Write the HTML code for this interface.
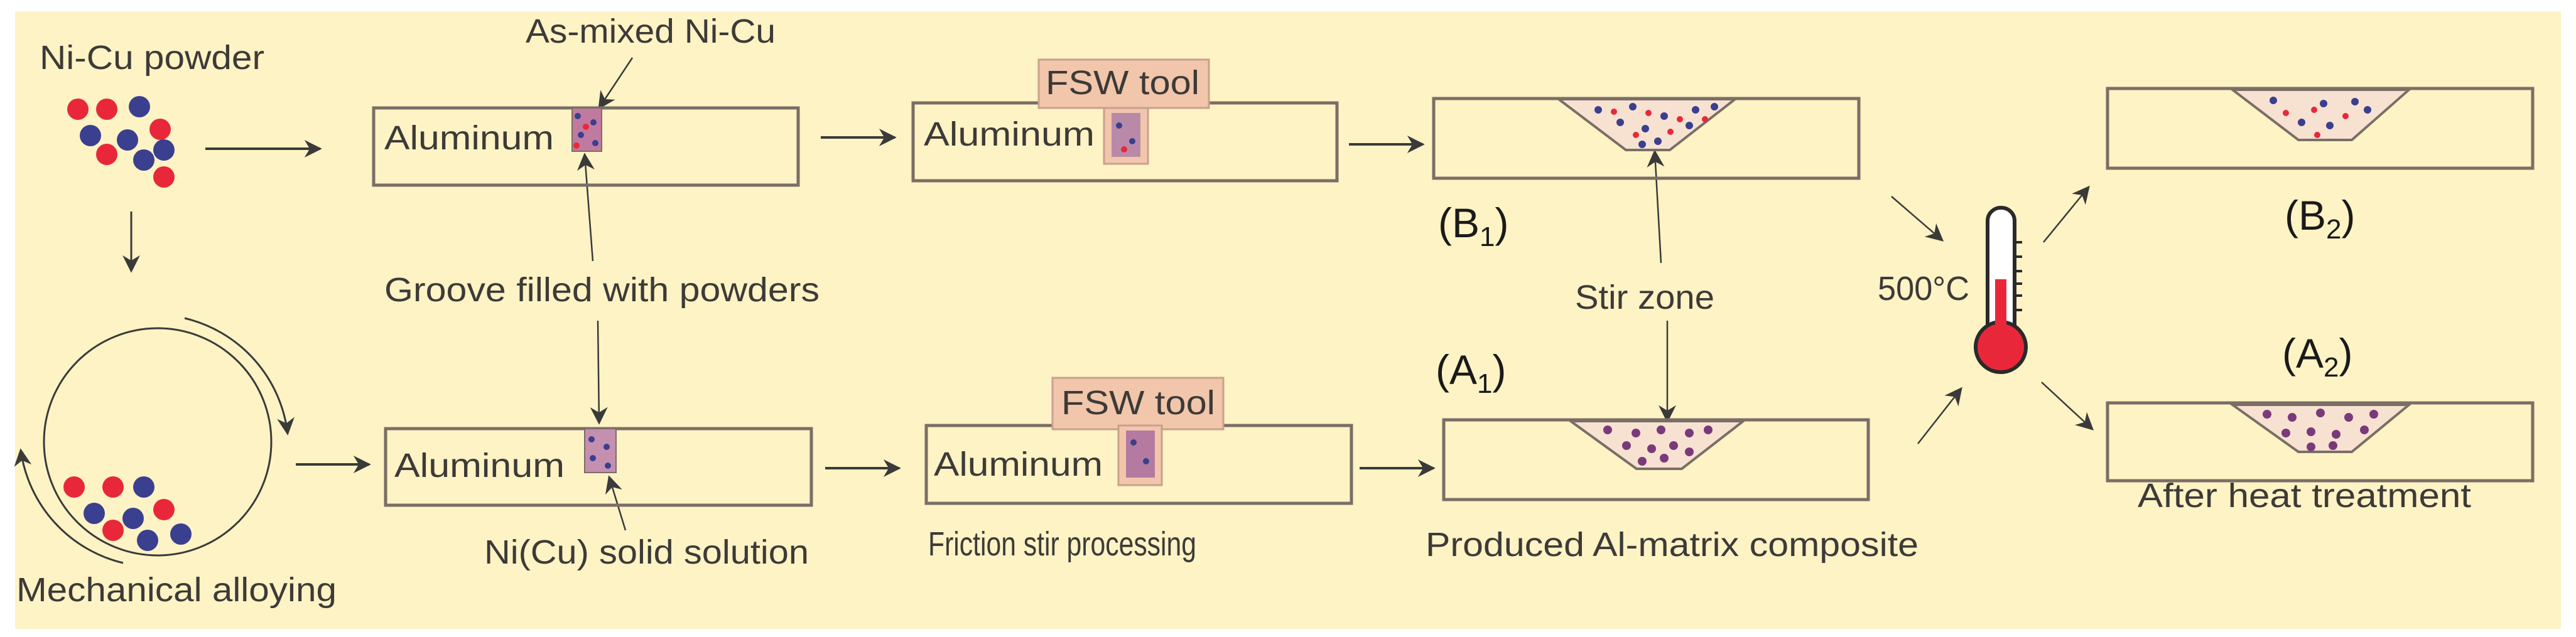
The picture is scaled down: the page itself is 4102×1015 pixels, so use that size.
<!DOCTYPE html>
<html><head><meta charset="utf-8"><style>html,body{margin:0;padding:0;background:#fff}svg{display:block}</style></head>
<body>
<svg width="4102" height="1015" viewBox="0 0 4102 1015" xmlns="http://www.w3.org/2000/svg">
<defs>
<marker id="ahb" viewBox="0 0 10 10" refX="9" refY="5" markerWidth="30" markerHeight="28" orient="auto" markerUnits="userSpaceOnUse">
<path d="M0,0 L10,5 L0,10 L3,5 z" fill="#3a3a3a"/></marker>
</defs>
<rect x="0" y="0" width="4102" height="1015" fill="#fff"/>
<rect x="24" y="18" width="4054" height="984" fill="#fdf3c4"/>
<g font-family="Liberation Sans, sans-serif" fill="#3d3a38" font-size="54">
<text x="63" y="110" textLength="358" lengthAdjust="spacingAndGlyphs">Ni-Cu powder</text>
<text x="837" y="68" textLength="398" lengthAdjust="spacingAndGlyphs">As-mixed Ni-Cu</text>
<text x="612" y="480" textLength="693" lengthAdjust="spacingAndGlyphs">Groove filled with powders</text>
<text x="26" y="958" textLength="510" lengthAdjust="spacingAndGlyphs">Mechanical alloying</text>
<text x="771" y="898" textLength="517" lengthAdjust="spacingAndGlyphs">Ni(Cu) solid solution</text>
<text x="1478" y="885" textLength="427" lengthAdjust="spacingAndGlyphs">Friction stir processing</text>
<text x="2270" y="886" textLength="785" lengthAdjust="spacingAndGlyphs">Produced Al-matrix composite</text>
<text x="2508" y="492" textLength="222" lengthAdjust="spacingAndGlyphs">Stir zone</text>
<text x="3404" y="808" textLength="531" lengthAdjust="spacingAndGlyphs">After heat treatment</text>
<text x="2990" y="478" textLength="146" lengthAdjust="spacingAndGlyphs">500°C</text>
</g>
<g font-family="Liberation Sans, sans-serif" fill="#1a1a1a" font-size="66">
<text x="2290" y="378">(B<tspan font-size="44" dy="14">1</tspan><tspan dy="-14">)</tspan></text>
<text x="2286" y="612">(A<tspan font-size="44" dy="14">1</tspan><tspan dy="-14">)</tspan></text>
<text x="3638" y="366">(B<tspan font-size="44" dy="14">2</tspan><tspan dy="-14">)</tspan></text>
<text x="3634" y="586">(A<tspan font-size="44" dy="14">2</tspan><tspan dy="-14">)</tspan></text>
</g>
<g>
<circle cx="124" cy="174" r="17" fill="#e8283a"/><circle cx="170" cy="174" r="17" fill="#e8283a"/><circle cx="222" cy="170" r="17" fill="#3a3f8f"/>
<circle cx="255" cy="206" r="17" fill="#e8283a"/><circle cx="144" cy="216" r="17" fill="#3a3f8f"/><circle cx="203" cy="223" r="17" fill="#3a3f8f"/>
<circle cx="170" cy="246" r="17" fill="#e8283a"/><circle cx="261" cy="239" r="17" fill="#3a3f8f"/><circle cx="229" cy="255" r="17" fill="#3a3f8f"/><circle cx="261" cy="282" r="17" fill="#e8283a"/>
<circle cx="118" cy="776" r="17" fill="#e8283a"/><circle cx="180" cy="776" r="17" fill="#e8283a"/><circle cx="229" cy="776" r="17" fill="#3a3f8f"/>
<circle cx="261" cy="812" r="17" fill="#e8283a"/><circle cx="150" cy="818" r="17" fill="#3a3f8f"/><circle cx="212" cy="826" r="17" fill="#3a3f8f"/>
<circle cx="180" cy="845" r="17" fill="#e8283a"/><circle cx="288" cy="851" r="17" fill="#3a3f8f"/><circle cx="235" cy="861" r="17" fill="#3a3f8f"/>
</g>
<g stroke="#3a3a3a" stroke-width="4" fill="none">
<circle cx="251" cy="704" r="181" stroke-width="3"/>
<path d="M294,507 A215,215 0 0 1 458,691" stroke-width="3" marker-end="url(#ahb)"/>
<path d="M196,897 A215,215 0 0 1 33,717" stroke-width="3" marker-end="url(#ahb)"/>
<line x1="327" y1="237" x2="510" y2="237" marker-end="url(#ahb)"/>
<line x1="209" y1="337" x2="209" y2="432" stroke-width="3" marker-end="url(#ahb)"/>
<line x1="471" y1="740" x2="588" y2="740" marker-end="url(#ahb)"/>
<line x1="1307" y1="219" x2="1425" y2="219" marker-end="url(#ahb)"/>
<line x1="1314" y1="746" x2="1432" y2="746" marker-end="url(#ahb)"/>
<line x1="2148" y1="230" x2="2266" y2="230" marker-end="url(#ahb)"/>
<line x1="2165" y1="746" x2="2283" y2="746" marker-end="url(#ahb)"/>
<g stroke-width="2.5">
<line x1="1007" y1="92" x2="954" y2="172" marker-end="url(#ahb)"/>
<line x1="944" y1="416" x2="931" y2="246" marker-end="url(#ahb)"/>
<line x1="952" y1="511" x2="954" y2="674" marker-end="url(#ahb)"/>
<line x1="996" y1="845" x2="970" y2="760" marker-end="url(#ahb)"/>
<line x1="2645" y1="419" x2="2635" y2="241" marker-end="url(#ahb)"/>
<line x1="2655" y1="511" x2="2655" y2="671" marker-end="url(#ahb)"/>
<line x1="3012" y1="313" x2="3093" y2="383" marker-end="url(#ahb)"/>
<line x1="3054" y1="707" x2="3123" y2="619" marker-end="url(#ahb)"/>
<line x1="3254" y1="386" x2="3326" y2="298" marker-end="url(#ahb)"/>
<line x1="3251" y1="609" x2="3332" y2="684" marker-end="url(#ahb)"/>
</g>
</g>
<g stroke="#7a6e66" stroke-width="5" fill="none">
<rect x="595" y="172" width="676" height="123"/>
<rect x="614" y="683" width="678" height="122"/>
<rect x="1454" y="164" width="675" height="124"/>
<rect x="1475" y="678" width="677" height="124"/>
<rect x="2283" y="157" width="677" height="127"/>
<rect x="2299" y="669" width="676" height="127"/>
<rect x="3356" y="141" width="677" height="127"/>
<rect x="3356" y="642" width="677" height="124"/>
</g>
<g fill="#f1c6ab" stroke="#c9a08e" stroke-width="3">
<rect x="1654" y="95" width="271" height="77"/>
<rect x="1758" y="172" width="70" height="89"/>
<rect x="1676" y="602" width="272" height="82"/>
<rect x="1781" y="678" width="69" height="95"/>
</g>
<g font-family="Liberation Sans, sans-serif" fill="#3d3a38" font-size="54">
<text x="1665" y="150" textLength="245" lengthAdjust="spacingAndGlyphs">FSW tool</text>
<text x="1690" y="660" textLength="245" lengthAdjust="spacingAndGlyphs">FSW tool</text>
<text x="612" y="238" textLength="270" lengthAdjust="spacingAndGlyphs">Aluminum</text>
<text x="628" y="760" textLength="271" lengthAdjust="spacingAndGlyphs">Aluminum</text>
<text x="1471" y="232" textLength="272" lengthAdjust="spacingAndGlyphs">Aluminum</text>
<text x="1487" y="758" textLength="269" lengthAdjust="spacingAndGlyphs">Aluminum</text>
</g>
<g>
<rect x="911" y="172" width="47" height="69" fill="#c07aa0" stroke="#7a6e66" stroke-width="2"/>
<rect x="931" y="683" width="50" height="70" fill="#c58fb0" stroke="#7a6e66" stroke-width="2"/>
<rect x="1770" y="180" width="46" height="70" fill="#b98aa8"/>
<rect x="1793" y="686" width="46" height="75" fill="#b57aa0"/>
</g>
<g fill="#3a3f8f">
<circle cx="920" cy="185" r="5"/><circle cx="945" cy="195" r="5"/><circle cx="925" cy="215" r="5"/><circle cx="948" cy="228" r="5"/>
<circle cx="942" cy="700" r="5"/><circle cx="966" cy="712" r="5"/><circle cx="944" cy="730" r="5"/><circle cx="968" cy="742" r="5"/>
<circle cx="1782" cy="200" r="5"/><circle cx="1803" cy="225" r="5"/><circle cx="1805" cy="705" r="5"/><circle cx="1825" cy="735" r="5"/>
</g>
<g fill="#e8283a"><circle cx="933" cy="202" r="5"/><circle cx="918" cy="232" r="5"/><circle cx="1790" cy="238" r="5"/></g>
<g fill="#f7e2d2" stroke="#7a6e66" stroke-width="4">
<polygon points="2482,158 2763,158 2659,239 2589,239"/>
<polygon points="2501,671 2776,671 2678,747 2606,747"/>
<polygon points="3555,143 3836,143 3745,223 3660,223"/>
<polygon points="3555,645 3836,645 3745,720 3660,720"/>
</g>
<g fill="#3a3f8f">
<circle cx="2545" cy="175" r="6"/><circle cx="2600" cy="170" r="6"/><circle cx="2650" cy="185" r="6"/><circle cx="2700" cy="175" r="6"/><circle cx="2620" cy="205" r="6"/><circle cx="2580" cy="195" r="6"/><circle cx="2640" cy="225" r="6"/><circle cx="2690" cy="200" r="6"/><circle cx="2615" cy="230" r="6"/><circle cx="2730" cy="170" r="6"/>
<circle cx="3620" cy="160" r="6"/><circle cx="3700" cy="165" r="6"/><circle cx="3750" cy="162" r="6"/><circle cx="3665" cy="195" r="6"/><circle cx="3710" cy="200" r="6"/><circle cx="3770" cy="175" r="6"/>
</g>
<g fill="#e8283a">
<circle cx="2570" cy="178" r="5"/><circle cx="2625" cy="180" r="5"/><circle cx="2675" cy="190" r="5"/><circle cx="2605" cy="215" r="5"/><circle cx="2660" cy="210" r="5"/><circle cx="2715" cy="190" r="5"/>
<circle cx="3640" cy="180" r="5"/><circle cx="3685" cy="175" r="5"/><circle cx="3735" cy="185" r="5"/><circle cx="3690" cy="215" r="5"/>
</g>
<g fill="#7a3a7a">
<circle cx="2560" cy="685" r="7"/><circle cx="2605" cy="690" r="7"/><circle cx="2645" cy="685" r="7"/><circle cx="2690" cy="690" r="7"/><circle cx="2720" cy="685" r="7"/>
<circle cx="2590" cy="710" r="7"/><circle cx="2630" cy="715" r="7"/><circle cx="2665" cy="710" r="7"/><circle cx="2615" cy="735" r="7"/><circle cx="2650" cy="730" r="7"/><circle cx="2690" cy="720" r="7"/>
<circle cx="3610" cy="660" r="7"/><circle cx="3650" cy="665" r="7"/><circle cx="3695" cy="658" r="7"/><circle cx="3740" cy="665" r="7"/><circle cx="3780" cy="660" r="7"/>
<circle cx="3640" cy="690" r="7"/><circle cx="3680" cy="688" r="7"/><circle cx="3720" cy="692" r="7"/><circle cx="3765" cy="685" r="7"/><circle cx="3680" cy="712" r="7"/><circle cx="3715" cy="710" r="7"/>
</g>
<g>
<rect x="3165" y="331" width="43" height="210" rx="21" fill="#fff" stroke="#2a2a2a" stroke-width="6"/>
<circle cx="3186" cy="553" r="40" fill="#e8283a" stroke="#2a2a2a" stroke-width="6"/>
<rect x="3177" y="445" width="18" height="110" fill="#e8283a"/>
<g stroke="#2a2a2a" stroke-width="4"><line x1="3208" y1="386" x2="3220" y2="386"/><line x1="3208" y1="409" x2="3220" y2="409"/><line x1="3208" y1="432" x2="3220" y2="432"/><line x1="3208" y1="452" x2="3220" y2="452"/><line x1="3208" y1="471" x2="3220" y2="471"/><line x1="3208" y1="494" x2="3220" y2="494"/></g>
</g>
</svg>
</body></html>
